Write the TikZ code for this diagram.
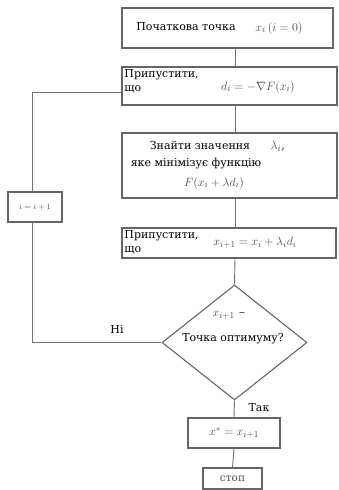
\documentclass[tikz,border=0pt]{standalone}
\usepackage{amsmath}
\usepackage{fontspec}
\setmainfont{DejaVu Serif}
\newfontfamily\uaserif{DejaVu Serif}
\usetikzlibrary{shapes.geometric}

\begin{document}
\begin{tikzpicture}[x=1pt,y=-1pt,line width=0.9pt,
  blok/.style={draw=black!60,line width=1.1pt,inner sep=0pt},
  lin/.style={draw=black!55,line width=0.9pt},
  txt/.style={font=\uaserif\fontsize{11}{14}\selectfont,inner sep=1pt},
  mth/.style={font=\fontsize{13}{15}\selectfont,text=black!70,inner sep=1pt}]
  \useasboundingbox (0,0) rectangle (338,490);
  % ============ блоки ============
  \coordinate (axis) at (235,0);
  \node[blok,minimum width=211pt,minimum height=40pt] (start) at (227.5,28) {};
  \node[txt] (start-a) at (186,27) {Початкова точка};
  \node[mth] (start-b) at (279,28) {$x_i\,(i=0)$};
  % напрямок
  \node[blok,minimum width=215pt,minimum height=38pt] (dir) at (229.5,86) {};
  \node[txt,anchor=north west,align=left] (dir-a) at (123,68) {Припустити,\\що};
  \node[mth] (dir-b) at (258,87) {$d_i=-\nabla F(x_i)$};
  % пошук кроку
  \node[blok,minimum width=215pt,minimum height=65pt] (step-box) at (229.5,165.5) {};
  \node[txt] (find-a) at (200,145) {Знайти значення};
  \node[mth] (find-b) at (278,146) {$\lambda_i$,};
  \node[txt] (find-c) at (196,164) {яке мінімізує функцію};
  \node[mth] (find-d) at (214,183) {$F(x_i+\lambda d_i)$};
  % нова точка
  \node[blok,minimum width=214pt,minimum height=30pt] (upd) at (229,243) {};
  \node[txt,anchor=north west,align=left] (upd-a) at (123,229) {Припустити,\\що};
  \node[mth] (upd-b) at (255,243) {$x_{i+1}=x_i+\lambda_i d_i$};
  % перевірка
  \node[blok,diamond,minimum width=145pt,minimum height=115pt] (test) at (234.5,342.5) {};
  \node[mth] (test-a) at (229,315) {$x_{i+1}$ --};
  \node[txt] (test-b) at (233,339) {Точка оптимуму?};
  % результат
  \node[blok,minimum width=92pt,minimum height=30pt] (res) at (234,433) {};
  \node[mth] (res-a) at (234,433) {$x^*=x_{i+1}$};
  \node[blok,minimum width=59pt,minimum height=21pt] (stop) at (232.5,478.5) {};
  \node[txt,text=black!70,font=\uaserif\fontsize{10.5}{12}\selectfont] (stop-a) at (232.5,479) {стоп};
  % лічильник
  \node[blok,minimum width=54pt,minimum height=30pt] (inc) at (35,207) {};
  \node[mth,font=\fontsize{8}{9}\selectfont] (inc-a) at (35,207) {$i=i+1$};
  % ---------- з'єднання ----------
  \draw[lin] (start.south -| axis) -- (dir.north -| axis);
  \draw[lin] (dir.south -| axis) -- (step-box.north -| axis);
  \draw[lin] (step-box.south -| axis) -- (upd.north -| axis);
  \draw[lin] (upd.south -| axis) -- (test.north);
  \draw[lin] (test.south) -- (res.north);
  \draw[lin] (res.south) -- (stop.north);
  \coordinate (loop-low) at (32,342.5);
  \coordinate (loop-up) at (32,92);
  \draw[lin] (test.west) -- (loop-low) -- (loop-low |- inc.south);
  \draw[lin] (loop-up |- inc.north) -- (loop-up) -- (loop-up -| dir.west);
  \node[txt] (no) at (117,329) {Ні};
  \node[txt] (yes) at (259,408) {Так};
\end{tikzpicture}
\end{document}
